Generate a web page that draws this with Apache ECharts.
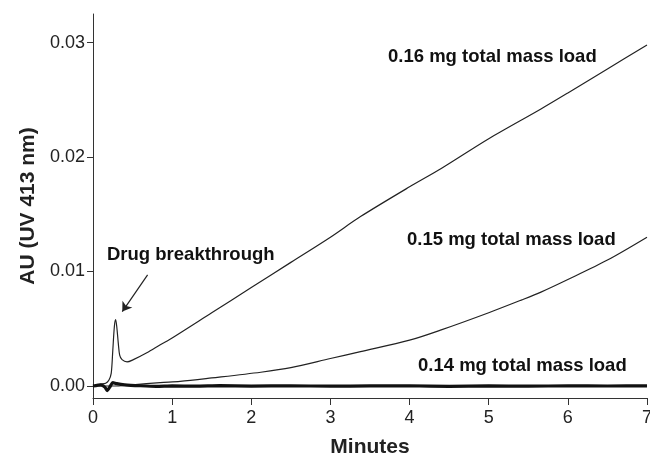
<!DOCTYPE html>
<html>
<head>
<meta charset="utf-8">
<script src="https://cdn.jsdelivr.net/npm/echarts@6/dist/echarts.min.js"></script>
<style>
  html, body { margin: 0; padding: 0; background: #fff; }
  #main { width: 650px; height: 463px; }
</style>
</head>
<body>
<div id="main"></div>
<script>
// 0.16 mg load: breakthrough peak then near-linear rise
var time016 = [0, 0.09, 0.16, 0.2, 0.23, 0.25, 0.27, 0.286, 0.3, 0.32, 0.337, 0.367, 0.43, 0.51, 0.68, 0.85, 1, 1.5, 2, 2.5, 3, 3.38, 4, 4.4, 5, 5.66, 6, 6.5, 7];
var au016 = [0.0000, 0.00015, 0.00024, 0.0005, 0.0011, 0.0031, 0.0052, 0.0058, 0.0052, 0.0037, 0.0027, 0.0023, 0.0021, 0.0023, 0.0029, 0.0036, 0.0042, 0.0064, 0.0086, 0.0108, 0.0130, 0.0148, 0.0174, 0.0190, 0.0216, 0.0242, 0.0256, 0.0277, 0.0298];

// 0.15 mg load: slow curved rise
var time015 = [0, 0.3, 0.5, 0.85, 1.1, 1.5, 2.12, 2.5, 3, 3.38, 4, 4.4, 5, 5.41, 5.66, 6, 6.5, 7];
var au015 = [0.0000, 0.0000, 0.0001, 0.0003, 0.0004, 0.0007, 0.0012, 0.0016, 0.0024, 0.0030, 0.0040, 0.0049, 0.0064, 0.0075, 0.0082, 0.0093, 0.0110, 0.0130];

// 0.14 mg load: flat noisy baseline
var time014 = [0, 0.1, 0.15, 0.18, 0.22, 0.25, 0.3, 0.4, 0.6, 0.8, 1, 1.3, 1.6, 2, 2.5, 3, 3.5, 4, 4.5, 5, 5.5, 6, 6.5, 7];
var au014 = [0.0000, 0.0001, -0.0001, -0.0004, 0.0000, 0.0003, 0.0002, 0.0001, 0.00002, -0.00003, 0.00001, -0.00002, 0.00003, -0.00001, 0.00002, -0.00002, 0.00001, 0.00002, -0.00003, 0.00001, -0.00002, 0.00002, 0.0, 0.00001];

var yTicks = [0, 0.01, 0.02, 0.03];

function pairs(xs, ys) {
  return xs.map(function (x, i) { return [x, ys[i]]; });
}

var myChart = echarts.init(document.getElementById('main'));
var fam = 'Liberation Sans, Arial, sans-serif';
var labelFont = { fontFamily: fam, fontSize: 18, color: '#222' };
var noteFont = 'bold 18.5px Liberation Sans, Arial, sans-serif';

var option = {
  animation: false,
  backgroundColor: '#fff',
  grid: { left: 93, right: 3, top: 14, bottom: 65, outerBoundsMode: 'none' },
  xAxis: {
    type: 'value',
    min: 0,
    max: 7,
    interval: 1,
    name: 'Minutes',
    nameLocation: 'middle',
    nameGap: 39,
    nameTextStyle: { fontFamily: fam, fontSize: 21, fontWeight: 'bold', color: '#222' },
    axisLine: { show: true, onZero: false, lineStyle: { color: '#333', width: 1 } },
    axisTick: { show: true, inside: false, length: 7, lineStyle: { color: '#333' } },
    axisLabel: Object.assign({ margin: 11 }, labelFont),
    splitLine: { show: false }
  },
  yAxis: {
    type: 'value',
    min: -0.00105,
    max: 0.0325,
    name: 'AU (UV 413 nm)',
    nameLocation: 'middle',
    nameGap: 50,
    nameTextStyle: { fontFamily: fam, fontSize: 21, fontWeight: 'bold', color: '#222' },
    axisLine: { show: true, lineStyle: { color: '#333', width: 1 } },
    axisTick: { show: true, inside: false, length: 6, customValues: yTicks, lineStyle: { color: '#333' } },
    axisLabel: Object.assign({
      margin: 8,
      customValues: yTicks,
      formatter: function (v) { return v.toFixed(2); }
    }, labelFont),
    splitLine: { show: false }
  },
  series: [
    {
      name: '0.16 mg',
      type: 'line',
      data: pairs(time016, au016),
      showSymbol: false,
      smooth: 0.3,
      lineStyle: { color: '#222', width: 1.2 },
      markLine: {
        silent: true,
        symbol: ['none', 'arrow'],
        symbolSize: 9,
        label: { show: false },
        lineStyle: { color: '#222', width: 1.2, type: 'solid' },
        data: [[{ coord: [0.69, 0.0097] }, { coord: [0.37, 0.0065] }]]
      }
    },
    {
      name: '0.15 mg',
      type: 'line',
      data: pairs(time015, au015),
      showSymbol: false,
      smooth: 0.3,
      lineStyle: { color: '#222', width: 1.2 }
    },
    {
      name: '0.14 mg',
      type: 'line',
      data: pairs(time014, au014),
      showSymbol: false,
      smooth: 0.2,
      lineStyle: { color: '#111', width: 3.2 }
    }
  ],
  graphic: [
    { type: 'text', x: 107, y: 255, style: { text: 'Drug breakthrough', font: noteFont, fill: '#111', verticalAlign: 'middle' } },
    { type: 'text', x: 388, y: 57, style: { text: '0.16 mg total mass load', font: noteFont, fill: '#111', verticalAlign: 'middle' } },
    { type: 'text', x: 407, y: 240, style: { text: '0.15 mg total mass load', font: noteFont, fill: '#111', verticalAlign: 'middle' } },
    { type: 'text', x: 418, y: 366, style: { text: '0.14 mg total mass load', font: noteFont, fill: '#111', verticalAlign: 'middle' } }
  ]
};
myChart.setOption(option);
</script>
</body>
</html>
